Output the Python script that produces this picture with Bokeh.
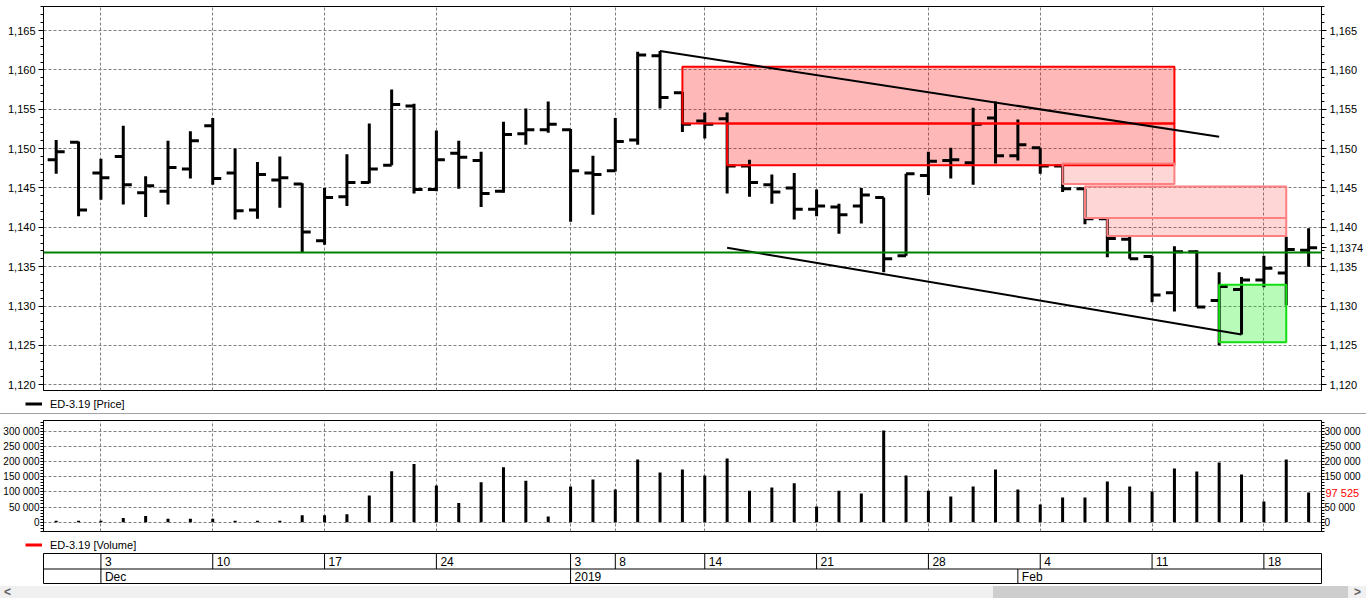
import numpy as np
from bokeh.plotting import figure
from bokeh.models import (Range1d, LinearAxis, SingleIntervalTicker, FixedTicker,
                          CustomJSTickFormatter, Span, ColumnDataSource,
                          Legend, LegendItem, Div)
from bokeh.layouts import column
from bokeh.embed import file_html
from bokeh.resources import INLINE
from bokeh.core.properties import value

FONT = "Liberation Sans"

# ---------------- data ----------------
dates = ["2018-11-29", "2018-11-30",
         "2018-12-03", "2018-12-04", "2018-12-05", "2018-12-06", "2018-12-07",
         "2018-12-10", "2018-12-11", "2018-12-12", "2018-12-13", "2018-12-14",
         "2018-12-17", "2018-12-18", "2018-12-19", "2018-12-20", "2018-12-21",
         "2018-12-24", "2018-12-25", "2018-12-26", "2018-12-27", "2018-12-28", "2018-12-29",
         "2019-01-03", "2019-01-04",
         "2019-01-08", "2019-01-09", "2019-01-10", "2019-01-11",
         "2019-01-14", "2019-01-15", "2019-01-16", "2019-01-17", "2019-01-18",
         "2019-01-21", "2019-01-22", "2019-01-23", "2019-01-24", "2019-01-25",
         "2019-01-28", "2019-01-29", "2019-01-30", "2019-01-31", "2019-02-01",
         "2019-02-04", "2019-02-05", "2019-02-06", "2019-02-07", "2019-02-08",
         "2019-02-11", "2019-02-12", "2019-02-13", "2019-02-14", "2019-02-15",
         "2019-02-18", "2019-02-19", "2019-02-20"]

opens = [1.1486, 1.1508, 1.1469, 1.1490, 1.1444, 1.1446, 1.1474, 1.1529, 1.1469, 1.1422,
         1.1460, 1.1455, 1.1383, 1.1439, 1.1457, 1.1479, 1.1554, 1.1448, 1.1494, 1.1485,
         1.1446, 1.1519, 1.1524, 1.1524, 1.1469, 1.1472, 1.1511, 1.1618, 1.1571, 1.1535,
         1.1538, 1.1478, 1.1454, 1.1450, 1.1423, 1.1426, 1.1427, 1.1438, 1.1364, 1.1466,
         1.1485, 1.1482, 1.1539, 1.1491, 1.1501, 1.1478, 1.1449, 1.1411, 1.1385, 1.1363,
         1.1317, 1.1369, 1.1307, 1.1321, 1.1333, 1.1342, 1.1371]
highs = [1.1511, 1.1509, 1.1487, 1.1529, 1.1465, 1.1510, 1.1522, 1.1539, 1.1500, 1.1483,
         1.1490, 1.1456, 1.1450, 1.1493, 1.1532, 1.1575, 1.1557, 1.1523, 1.1510, 1.1496,
         1.1534, 1.1551, 1.1560, 1.1525, 1.1491, 1.1539, 1.1623, 1.1624, 1.1572, 1.1546,
         1.1546, 1.1486, 1.1467, 1.1469, 1.1448, 1.1430, 1.1450, 1.1438, 1.1468, 1.1496,
         1.1501, 1.1552, 1.1560, 1.1537, 1.1501, 1.1478, 1.1449, 1.1411, 1.1390, 1.1364,
         1.1376, 1.1371, 1.1343, 1.1337, 1.1364, 1.1388, 1.1399]
lows = [1.1468, 1.1414, 1.1435, 1.1429, 1.1413, 1.1429, 1.1462, 1.1454, 1.1410, 1.1411,
        1.1425, 1.1368, 1.1378, 1.1427, 1.1456, 1.1479, 1.1443, 1.1446, 1.1449, 1.1426,
        1.1444, 1.1505, 1.1520, 1.1407, 1.1416, 1.1471, 1.1505, 1.1551, 1.1521, 1.1513,
        1.1443, 1.1439, 1.1430, 1.1410, 1.1414, 1.1392, 1.1405, 1.1343, 1.1364, 1.1441,
        1.1462, 1.1454, 1.1481, 1.1485, 1.1468, 1.1445, 1.1404, 1.1362, 1.1360, 1.1305,
        1.1293, 1.1299, 1.1250, 1.1264, 1.1324, 1.1301, 1.1350]
closes = [1.1496, 1.1422, 1.1463, 1.1454, 1.1453, 1.1476, 1.1510, 1.1462, 1.1421, 1.1467,
          1.1463, 1.1394, 1.1438, 1.1457, 1.1474, 1.1556, 1.1448, 1.1486, 1.1489, 1.1443,
          1.1518, 1.1524, 1.1531, 1.1472, 1.1467, 1.1509, 1.1619, 1.1565, 1.1531, 1.1531,
          1.1478, 1.1457, 1.1445, 1.1423, 1.1427, 1.1416, 1.1441, 1.1360, 1.1468, 1.1484,
          1.1486, 1.1531, 1.1491, 1.1505, 1.1478, 1.1449, 1.1411, 1.1386, 1.1360, 1.1314,
          1.1369, 1.1299, 1.1325, 1.1333, 1.1348, 1.1372, 1.1374]
volumes = [5000, 5000, 5000, 14000, 20000, 11000, 11000, 11000, 5000, 5000,
           5000, 23000, 23000, 26000, 88000, 168000, 192000, 121000, 63000, 132000,
           181000, 137000, 19000, 118000, 141000, 108000, 207000, 164000, 174000, 154000,
           210000, 104000, 114000, 128000, 52000, 104000, 95000, 302000, 154000, 104000,
           85000, 118000, 174000, 108000, 58000, 81000, 81000, 134000, 118000, 101000,
           177000, 167000, 197000, 157000, 68000, 207000, 97525]

tick_dates = ["2018-12-03", "2018-12-10", "2018-12-17", "2018-12-24", "2019-01-03", "2019-01-08",
              "2019-01-14", "2019-01-21", "2019-01-28", "2019-02-04", "2019-02-11", "2019-02-18"]
tick_labels = ["3", "10", "17", "24", "3", "8", "14", "21", "28", "4", "11", "18"]
month_dates = ["2018-12-03", "2019-01-03", "2019-02-01"]
month_labels = ["Dec", "2019", "Feb"]

price_series_label = "ED-3.19 [Price]"
volume_series_label = "ED-3.19 [Volume]"

support_level = 1.1368

# drawn zones (start date, end date, bottom, top)
zone_start = ["2019-01-11", "2019-01-15", "2019-02-05", "2019-02-06", "2019-02-07", "2019-02-14"]
zone_end = ["2019-02-12", "2019-02-12", "2019-02-12", "2019-02-19", "2019-02-19", "2019-02-19"]
zone_bottom = [1.1532, 1.1479, 1.1455, 1.1412, 1.1389, 1.1254]
zone_top = [1.1604, 1.1532, 1.1481, 1.1452, 1.1412, 1.1327]
zone_fill = ["#ff0000", "#ff0000", "#ff0000", "#ff0000", "#ff0000", "#00ee00"]
zone_alpha = [0.28, 0.28, 0.16, 0.16, 0.16, 0.28]
zone_line = ["#ff0000", "#ff0000", "#ff8080", "#ff8080", "#ff8080", "#11dd11"]

# trend lines (start date, start price, end date, end price)
trend_start = ["2019-01-10", "2019-01-15"]
trend_start_price = [1.1624, 1.1374]
trend_end = ["2019-02-14", "2019-02-15"]
trend_end_price = [1.1515, 1.1264]

# ---------------- helpers ----------------
idx = {d: i for i, d in enumerate(dates)}
xs = list(range(len(dates)))
tick_x = [idx[d] for d in tick_dates]
month_x = [idx[d] for d in month_dates]

W = 1366
x_lo, x_hi = -0.567, 56.576
GRID = "#808080"
DASH = "3 2"

price_fmt = CustomJSTickFormatter(code="""
const k = Math.round(tick * 200);
const s = Math.abs(tick * 200 - k) < 1e-6 ? tick.toFixed(3) : tick.toFixed(4);
return s.replace('.', ',');
""")
vol_fmt = CustomJSTickFormatter(code=r"return tick.toFixed(0).replace(/\B(?=(\d{3})+(?!\d))/g, ' ');")


def style_axis(ax, ticker, fmt, size, tick_out, standoff):
    ax.ticker = ticker
    ax.formatter = fmt
    ax.major_tick_out = tick_out
    ax.major_tick_in = 0
    ax.minor_tick_out = min(3, tick_out)
    ax.minor_tick_in = 0
    ax.major_label_standoff = standoff
    ax.major_label_text_font = FONT
    ax.major_label_text_font_size = size
    ax.major_label_text_color = "black"
    ax.axis_line_color = "black"
    ax.major_tick_line_color = "black"
    ax.minor_tick_line_color = "black"


def style_grids(fig):
    fig.xgrid.ticker = FixedTicker(ticks=tick_x)
    for g in (fig.xgrid, fig.ygrid):
        g.grid_line_color = GRID
        g.grid_line_dash = DASH


def no_align(fig):
    try:
        fig.frame_align = False
    except AttributeError:
        pass


def legend_figure(height):
    # full-width strip below a panel; its ranges lie outside the series values, so the
    # series renderers drawn here only feed the legend swatch
    lf = figure(width=W, height=height, x_range=Range1d(-3, -2), y_range=Range1d(-3, -2),
                output_backend="svg", toolbar_location=None, x_axis_location=None,
                y_axis_location=None, min_border=0)
    no_align(lf)
    lf.outline_line_color = None
    lf.xgrid.visible = False
    lf.ygrid.visible = False
    return lf


def add_legend(lf, label, renderer, y_loc):
    lf.add_layout(Legend(items=[LegendItem(label=label, renderers=[renderer])],
                         location=(25, y_loc), glyph_width=17, glyph_height=13,
                         label_height=13, label_standoff=8, padding=0, margin=0, spacing=0,
                         border_line_color=None, background_fill_alpha=0,
                         label_text_font=FONT, label_text_font_size="11px",
                         label_text_color="black"))


# ---------------- price panel ----------------
p = figure(width=W, height=392, x_range=Range1d(x_lo, x_hi), y_range=Range1d(1.11928, 1.16805),
           output_backend="svg", toolbar_location=None, x_axis_location=None,
           min_border_left=43, min_border_right=43, min_border_top=6, min_border_bottom=2)
p.outline_line_color = "black"
p.outline_line_width = 1
style_axis(p.yaxis[0], SingleIntervalTicker(interval=0.005, num_minor_ticks=5), price_fmt,
           "11px", 5, 3)
price_major = [round(t, 3) for t in np.arange(1.120, 1.1651, 0.005)]
price_minor = [round(t, 3) for t in np.arange(1.119, 1.1681, 0.001)]
rax = LinearAxis()
style_axis(rax, FixedTicker(ticks=price_major + [closes[-1]], minor_ticks=price_minor),
           price_fmt, "11px", 5, 3)
p.add_layout(rax, "right")
style_grids(p)

zsrc = ColumnDataSource(dict(left=[idx[d] for d in zone_start], right=[idx[d] for d in zone_end],
                             bottom=zone_bottom, top=zone_top, fill=zone_fill,
                             alpha=zone_alpha, line=zone_line))
p.quad(left="left", right="right", bottom="bottom", top="top", source=zsrc,
       fill_color="fill", fill_alpha="alpha", line_color=None)

bsrc = ColumnDataSource(dict(x=xs, o=opens, h=highs, l=lows, c=closes,
                             xl=[i - 0.38 for i in xs], xr=[i + 0.38 for i in xs]))
p.segment(x0="x", y0="l", x1="x", y1="h", source=bsrc, line_color="black", line_width=3)
p.segment(x0="xl", y0="o", x1="x", y1="o", source=bsrc, line_color="black", line_width=3)
p.segment(x0="x", y0="c", x1="xr", y1="c", source=bsrc, line_color="black", line_width=3)

p.quad(left="left", right="right", bottom="bottom", top="top", source=zsrc,
       fill_color=None, line_color="line", line_width=2)

p.segment(x0=[idx[d] for d in trend_start], y0=trend_start_price,
          x1=[idx[d] for d in trend_end], y1=trend_end_price,
          line_color="black", line_width=2)

p.add_layout(Span(location=support_level, dimension="width", line_color="#008000", line_width=2))

leg1 = legend_figure(21)
price_leg_r = leg1.segment(x0="x", y0="l", x1="x", y1="h", source=bsrc,
                           line_color="black", line_width=3)
add_legend(leg1, price_series_label, price_leg_r, 3)

sep = Div(text="", width=W, height=1, margin=0, styles={"background-color": "#a0a0a0"})

# ---------------- volume panel ----------------
v = figure(width=W, height=119, x_range=p.x_range, y_range=Range1d(-30700, 335300),
           output_backend="svg", toolbar_location=None, x_axis_location=None,
           min_border_left=43, min_border_right=43, min_border_top=6, min_border_bottom=2)
v.outline_line_color = "black"
v.outline_line_width = 1
style_axis(v.yaxis[0], SingleIntervalTicker(interval=50000, num_minor_ticks=5), vol_fmt,
           "10px", 3, 1)
vol_major = list(range(0, 300001, 50000))
vol_minor = list(range(-30000, 335001, 10000))
vrax = LinearAxis()
# on the right scale the last-value marker covers the 100 000 label
style_axis(vrax, FixedTicker(ticks=[t for t in vol_major if abs(t - volumes[-1]) > 10000],
                             minor_ticks=vol_minor),
           vol_fmt, "10px", 3, 0)
v.add_layout(vrax, "right")
last_vol_axis = LinearAxis(ticker=FixedTicker(ticks=[volumes[-1]], minor_ticks=[]),
                           formatter=vol_fmt, major_tick_out=0, major_tick_in=0,
                           minor_tick_out=0, minor_tick_in=0, axis_line_color=None,
                           major_tick_line_color=None, minor_tick_line_color=None,
                           major_label_standoff=-38, major_label_text_color="#ff0000",
                           major_label_text_font=FONT, major_label_text_font_size="11px")
v.add_layout(last_vol_axis, "right")
style_grids(v)

v.segment(x0=xs, y0=[0] * len(xs), x1=xs, y1=volumes, line_color="black", line_width=3)

leg2 = legend_figure(19)
vol_leg_r = leg2.segment(x0=xs, y0=[0] * len(xs), x1=xs, y1=volumes,
                         line_color="#ff0000", line_width=3)
add_legend(leg2, volume_series_label, vol_leg_r, 1)

# ---------------- date table ----------------
d = figure(width=W, height=32, x_range=p.x_range, y_range=Range1d(30, 0),
           output_backend="svg", toolbar_location=None, x_axis_location=None,
           y_axis_location=None, min_border_left=43, min_border_right=43,
           min_border_top=1, min_border_bottom=1)
d.outline_line_color = "black"
d.outline_line_width = 1
d.xgrid.visible = False
d.ygrid.visible = False
row_mid = 15.5
d.segment(x0=[x_lo], y0=[row_mid], x1=[x_hi], y1=[row_mid], line_color="black", line_width=1)
d.segment(x0=tick_x, y0=[0] * len(tick_x), x1=tick_x, y1=[row_mid] * len(tick_x),
          line_color="black", line_width=1)
d.segment(x0=month_x, y0=[row_mid] * len(month_x), x1=month_x, y1=[30] * len(month_x),
          line_color="black", line_width=1)
d.text(x=tick_x, y=[8] * len(tick_x), text=tick_labels, x_offset=4, text_baseline="middle",
       text_font=value(FONT), text_font_size="12px", text_color="black")
d.text(x=month_x, y=[23] * len(month_x), text=month_labels, x_offset=4, text_baseline="middle",
       text_font=value(FONT), text_font_size="12px", text_color="black")

# ---------------- horizontal scrollbar (window chrome) ----------------
scroll = Div(width=W, height=12, margin=(2, 0, 0, 0), text="""
<div style="position:relative;width:1366px;height:12px;background:#f0f0f0;
            font:bold 12px 'Liberation Sans';color:#606060;line-height:12px;">
  <span style="position:absolute;left:4px;top:0;">&lt;</span>
  <div style="position:absolute;left:993px;width:355px;top:0;height:12px;background:#cdcdcd;"></div>
  <span style="position:absolute;left:1354px;top:0;">&gt;</span>
</div>""")

layout = column(p, leg1, sep, v, leg2, d, scroll, spacing=0)
open("out.html", "w").write(file_html(layout, INLINE))
